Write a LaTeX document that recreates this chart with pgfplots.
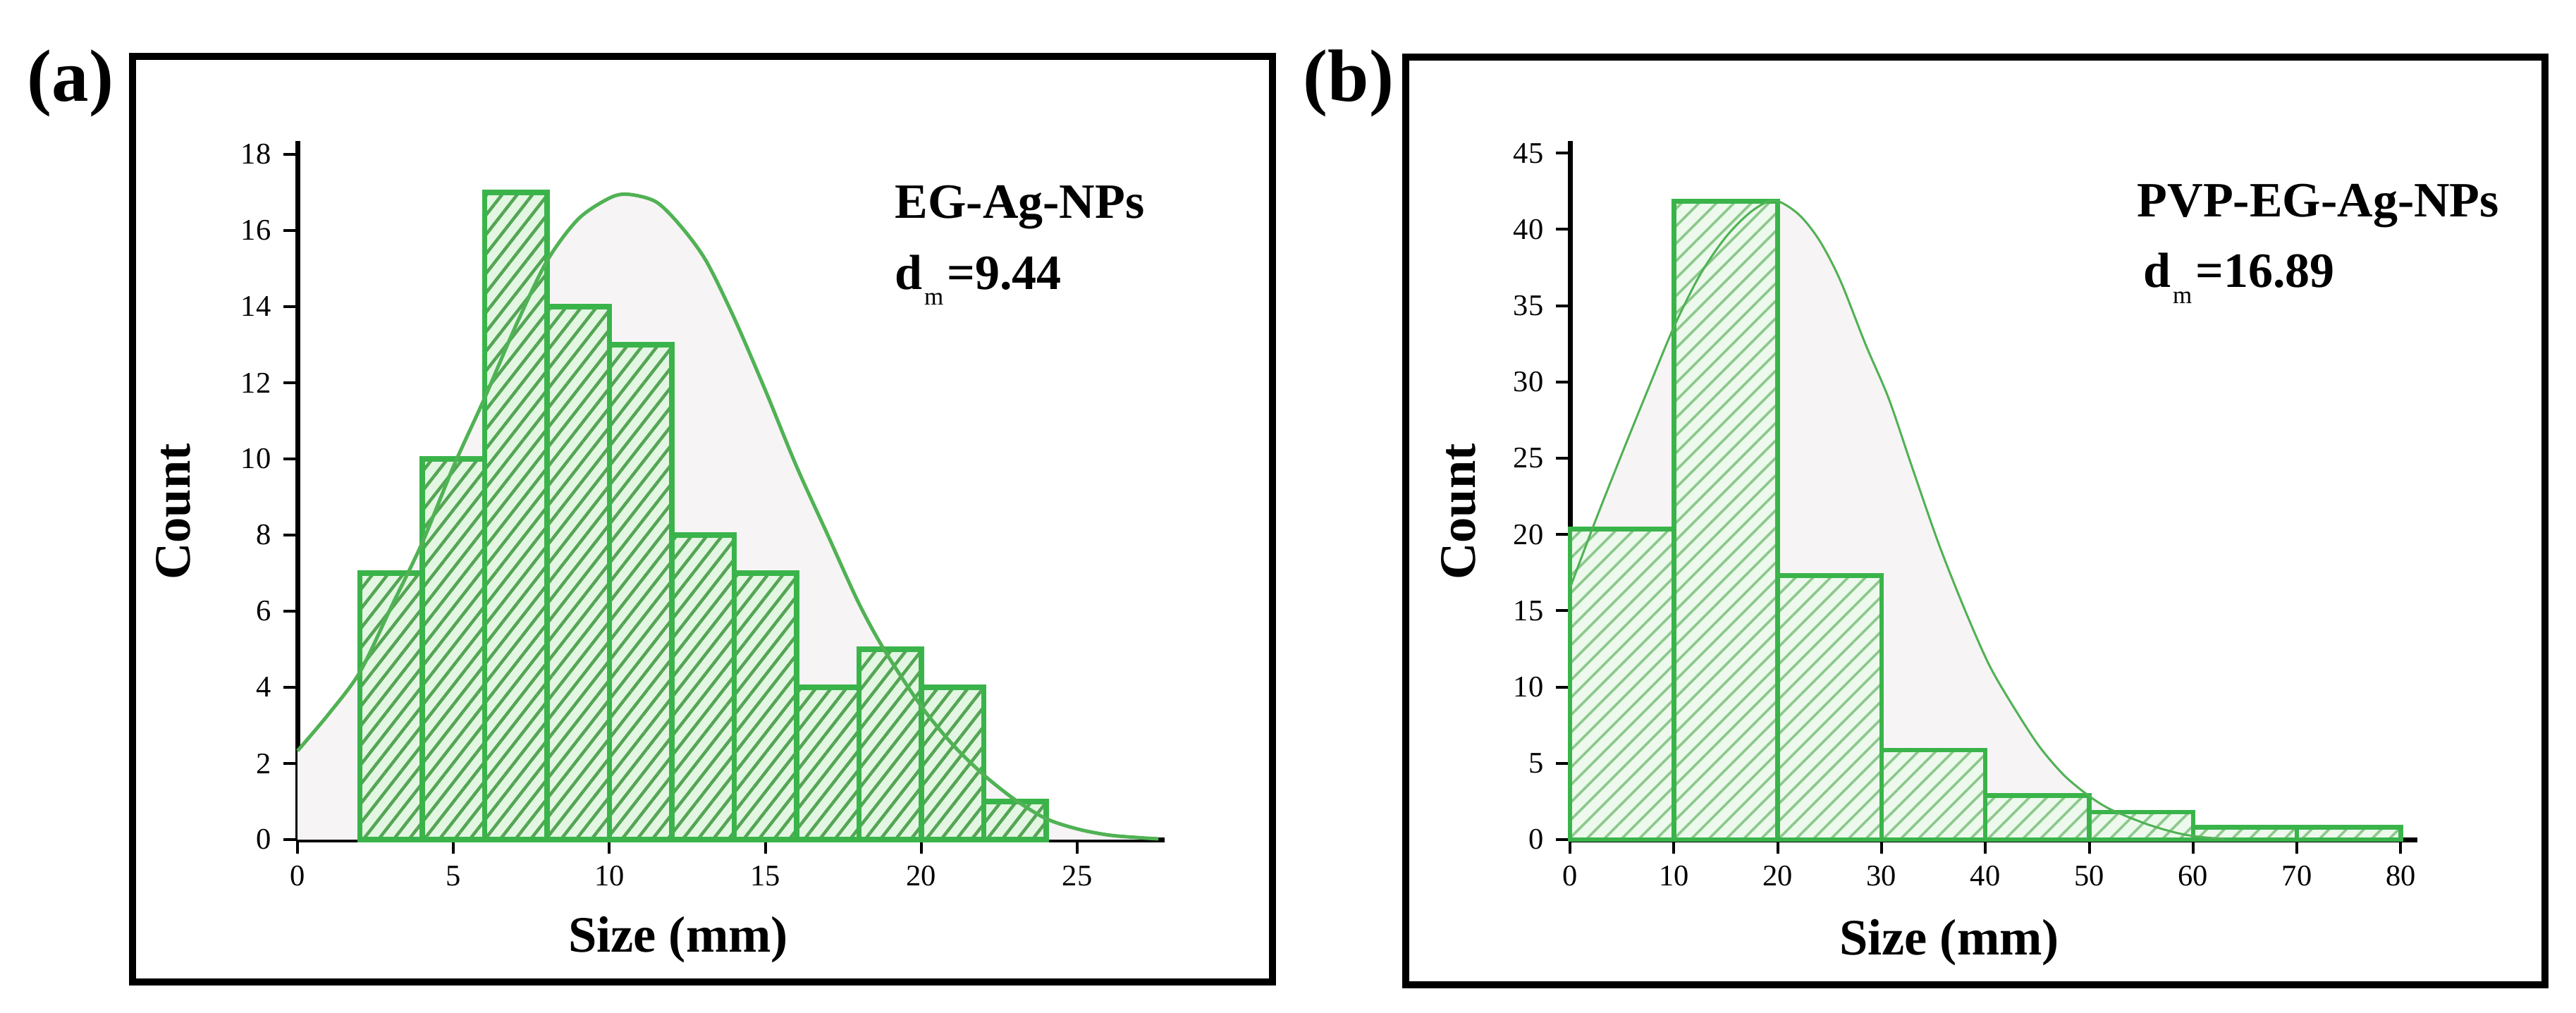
\documentclass[border=0pt]{standalone}
\usepackage{fontspec}
\setmainfont{Liberation Serif}
\usepackage{pgfplots}
\pgfplotsset{compat=1.18}
\usetikzlibrary{patterns.meta}
\definecolor{barline}{RGB}{58,180,74}
\definecolor{curveline}{RGB}{80,178,84}
\definecolor{curvefill}{RGB}{247,244,246}
\definecolor{hatchA}{RGB}{84,165,84}
\definecolor{hatchB}{RGB}{140,200,140}
\definecolor{barfillA}{RGB}{226,246,226}
\definecolor{barfillB}{RGB}{236,249,236}
\pgfplotsset{
  myaxis/.style={
    scale only axis,
    axis lines=left,
    axis line style={-, line width=1.4pt, black},
    tick align=outside,
    major tick length=4pt,
    tick style={black, line width=0.8pt},
    ticklabel style={font=\fontsize{8.5}{10}\selectfont},
    /pgf/number format/assume math mode=true,
    ymin=0, xmin=0,
    clip=false,
  }
}
\begin{document}
\begin{tikzpicture}[x=1pt,y=1pt]
\useasboundingbox (0,0) rectangle (730.8,287.2);
% frames
\draw[line width=2pt] (37.6,8.6) rectangle (361,271.2);
\draw[line width=2pt] (398.8,7.8) rectangle (722,271.0);
\node[font=\bfseries\fontsize{21}{24}\selectfont] at (20,263.6) {(a)};
\node[font=\bfseries\fontsize{21}{24}\selectfont] at (382.6,263.6) {(b)};

% ---------- panel (a) ----------
\begin{axis}[myaxis, at={(84.4pt,49pt)}, anchor=south west,
  width=246pt, height=198.2pt,
  xmax=27.8, ymax=18.35,
  xtick={0,5,10,15,20,25}, ytick={0,2,4,6,8,10,12,14,16,18}]
\addplot[fill=curvefill, draw=none, smooth] coordinates {
(0,2.33) (1,3.3) (2,4.4) (3,6.1) (4,7.8) (5,9.8) (6,11.6) (7,13.5) (8,15.2) (9,16.3) (10,16.85) (10.6,16.95) (11.5,16.75) (12.3,16.1) (13.1,15.2) (14,13.7) (15,11.8) (16,9.8) (17,8.0) (18,6.2) (18.85,4.93) (20,3.5) (21,2.5) (22,1.7) (23,1.05) (24,0.55) (25,0.28) (26,0.12) (27,0.05) (27.6,0.02)
} \closedcycle;
\addplot[ybar interval, draw=barline, line width=1.5pt,
  preaction={fill=barfillA},
  pattern={Lines[angle=52,distance=3.4pt,line width=0.9pt]}, pattern color=hatchA]
coordinates {(2,7) (4,10) (6,17) (8,14) (10,13) (12,8) (14,7) (16,4) (18,5) (20,4) (22,1) (24,0)};
\addplot[curveline, line width=1pt, smooth] coordinates {
(0,2.33) (1,3.3) (2,4.4) (3,6.1) (4,7.8) (5,9.8) (6,11.6) (7,13.5) (8,15.2) (9,16.3) (10,16.85) (10.6,16.95) (11.5,16.75) (12.3,16.1) (13.1,15.2) (14,13.7) (15,11.8) (16,9.8) (17,8.0) (18,6.2) (18.85,4.93) (20,3.5) (21,2.5) (22,1.7) (23,1.05) (24,0.55) (25,0.28) (26,0.12) (27,0.05) (27.6,0.02)
};
\end{axis}
\node[font=\bfseries\fontsize{14.5}{16}\selectfont] at (192.4,20.6) {Size (mm)};
\node[font=\bfseries\fontsize{14.5}{16}\selectfont, rotate=90] at (49.2,142) {Count};
\node[anchor=base west, font=\bfseries\fontsize{14}{16}\selectfont] at (250.4,225.2) {EG-Ag-NPs};
\node[anchor=base west, font=\bfseries\fontsize{14}{16}\selectfont] at (250.4,205.2) {d\kern0.5pt\raisebox{-4.5pt}{\mdseries\fontsize{7}{8}\selectfont m}\kern1pt=9.44};

% ---------- panel (b) ----------
\begin{axis}[myaxis, at={(445.4pt,49pt)}, anchor=south west,
  width=240.4pt, height=198.2pt,
  xmax=81.6, ymax=45.8,
  xtick={0,10,20,30,40,50,60,70,80}, ytick={0,5,10,15,20,25,30,35,40,45}]
\addplot[fill=curvefill, draw=none, smooth] coordinates {
(0,16.5) (2.5,21.0) (5,25.3) (7.5,29.5) (10,33.6) (12.5,37.0) (15,39.5) (17.5,41.2) (19.7,41.9) (22,41.0) (24,39.3) (26,36.7) (28.5,32.4) (30.7,28.9) (33,24.3) (35.5,19.4) (38,15.1) (40.4,11.4) (42.8,8.6) (45.2,6.1) (47.6,4.2) (50,2.85) (52,2.0) (55,1.15) (57,0.7) (59,0.35) (61,0.15) (63,0.05)
} \closedcycle;
\addplot[ybar interval, draw=barline, line width=1.3pt,
  preaction={fill=barfillB},
  pattern={Lines[angle=45,distance=3.5pt,line width=0.7pt]}, pattern color=hatchB]
coordinates {(0,20.35) (10,41.85) (20,17.3) (30,5.86) (40,2.88) (50,1.8) (60,0.8) (70,0.8) (80,0)};
\addplot[curveline, line width=0.6pt, smooth] coordinates {
(0,16.5) (2.5,21.0) (5,25.3) (7.5,29.5) (10,33.6) (12.5,37.0) (15,39.5) (17.5,41.2) (19.7,41.9) (22,41.0) (24,39.3) (26,36.7) (28.5,32.4) (30.7,28.9) (33,24.3) (35.5,19.4) (38,15.1) (40.4,11.4) (42.8,8.6) (45.2,6.1) (47.6,4.2) (50,2.85) (52,2.0) (55,1.15) (57,0.7) (59,0.35) (61,0.15) (63,0.05)
};
\end{axis}
\node[font=\bfseries\fontsize{14.5}{16}\selectfont] at (553,19.8) {Size (mm)};
\node[font=\bfseries\fontsize{14.5}{16}\selectfont, rotate=90] at (413.7,142) {Count};
\node[anchor=base west, font=\bfseries\fontsize{14}{16}\selectfont] at (602.8,225.8) {PVP-EG-Ag-NPs};
\node[anchor=base west, font=\bfseries\fontsize{14}{16}\selectfont] at (604.6,205.6) {d\kern0.5pt\raisebox{-4.5pt}{\mdseries\fontsize{7}{8}\selectfont m}\kern1pt=16.89};
\end{tikzpicture}
\end{document}
